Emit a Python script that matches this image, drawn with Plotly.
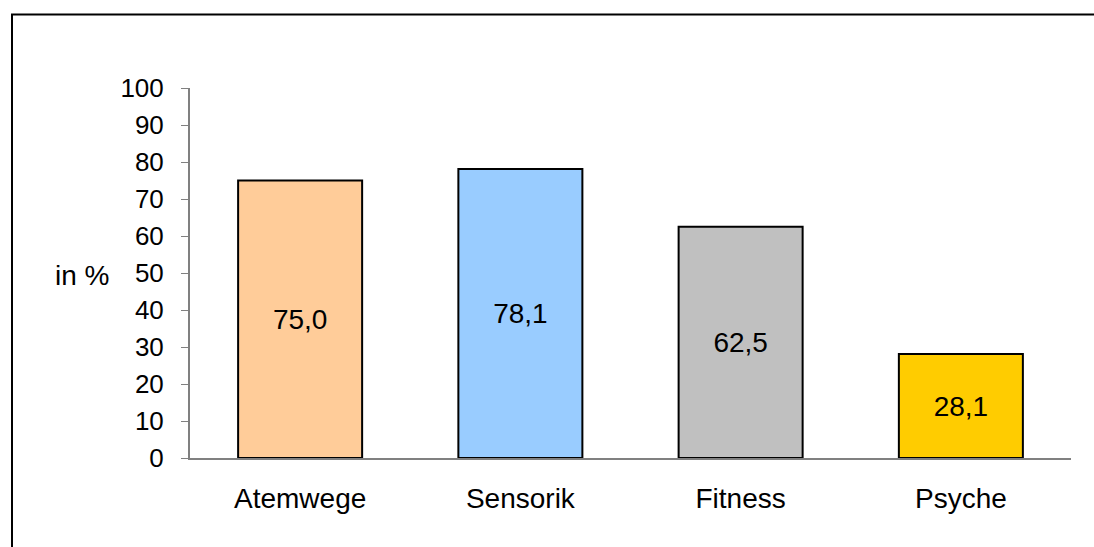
import plotly.graph_objects as go

categories = ["Atemwege", "Sensorik", "Fitness", "Psyche"]
values = [75.0, 78.1, 62.5, 28.1]
bar_colors = ["#FFCC99", "#99CCFF", "#C0C0C0", "#FFCC00"]
y_ticks = [0, 10, 20, 30, 40, 50, 60, 70, 80, 90, 100]

W, H = 1094, 547
L, R, T, B = 190, 23, 88, 89
pw, ph = W - L - R, H - T - B

def px_x(p):
    return (p - L) / pw

def px_y(p):
    return (H - B - p) / ph

FONT = "Liberation Sans, Arial, Helvetica, sans-serif"

fig = go.Figure(go.Bar(
    x=categories,
    y=values,
    marker=dict(color=bar_colors, line=dict(color="black", width=2)),
    texttemplate="%{y:.1f}",
    textposition="inside",
    insidetextanchor="middle",
    textangle=0,
    textfont=dict(family=FONT, size=28, color="black"),
    cliponaxis=False,
))

fig.update_layout(
    width=W, height=H,
    margin=dict(l=L, r=R, t=T, b=B),
    paper_bgcolor="white", plot_bgcolor="white",
    separators=",.",
    bargap=0.437,
    showlegend=False,
    font=dict(family=FONT, size=26, color="black"),
    xaxis=dict(
        showline=True, linecolor="#808080", linewidth=2,
        ticks="", showgrid=False, zeroline=False,
        tickfont=dict(size=28),
        ticklabelstandoff=14,
    ),
    yaxis=dict(
        range=[0, 100], tickvals=y_ticks, ticktext=[str(v) for v in y_ticks],
        showline=True, linecolor="#808080", linewidth=2,
        ticks="outside", ticklen=7, tickcolor="#808080", tickwidth=1,
        showgrid=False, zeroline=False,
        tickfont=dict(size=26),
        ticklabelstandoff=12,
    ),
    shapes=[dict(
        type="rect", xref="paper", yref="paper",
        x0=px_x(12), x1=px_x(1110), y0=px_y(560), y1=px_y(14.5),
        line=dict(color="black", width=2), fillcolor="rgba(0,0,0,0)",
        layer="above",
    )],
    annotations=[dict(
        text="in %", xref="paper", yref="paper",
        x=px_x(82), y=px_y(275), xanchor="center", yanchor="middle",
        showarrow=False, font=dict(size=28, color="black"),
    )],
)

fig.write_html("out.html")
